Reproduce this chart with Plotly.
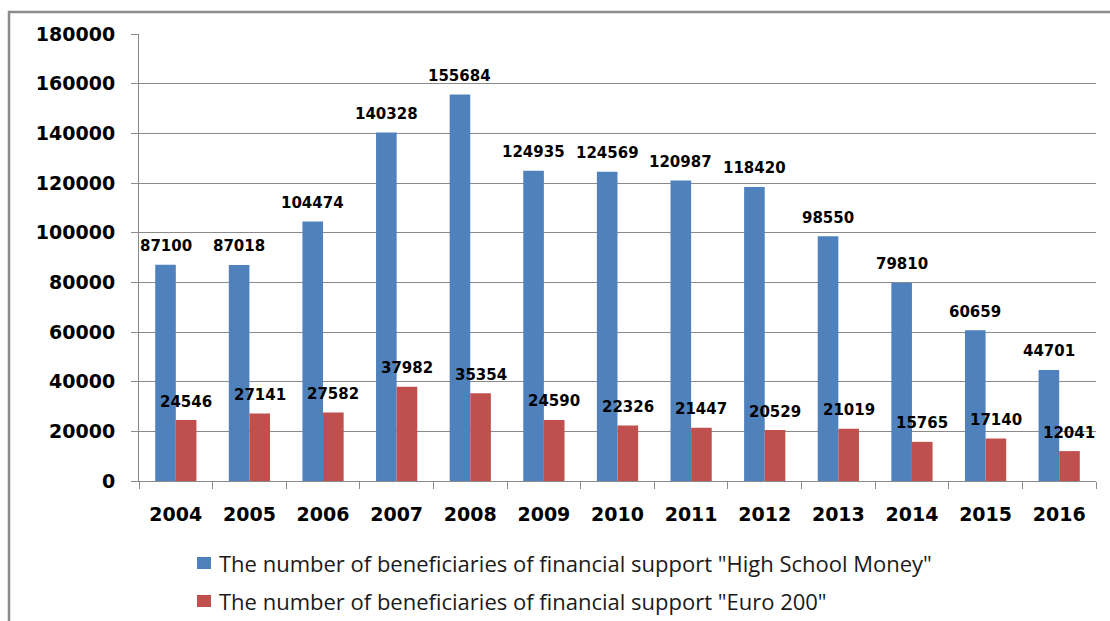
import plotly.graph_objects as go

years = ["2004", "2005", "2006", "2007", "2008", "2009", "2010",
         "2011", "2012", "2013", "2014", "2015", "2016"]
high_school_money = [87100, 87018, 104474, 140328, 155684, 124935, 124569,
                     120987, 118420, 98550, 79810, 60659, 44701]
euro_200 = [24546, 27141, 27582, 37982, 35354, 24590, 22326,
            21447, 20529, 21019, 15765, 17140, 12041]
series_names = [
    'The number of beneficiaries of financial support "High School Money"',
    'The number of beneficiaries of financial support "Euro 200"',
]
y_ticks = [0, 20000, 40000, 60000, 80000, 100000, 120000, 140000, 160000, 180000]

BLUE = "#4F81BD"
RED = "#C0504D"
GRID = "#8A8A8A"
colors = [BLUE, RED]

W, H = 1110, 621
ML, MR, MT, MB = 139, 14, 34, 140
plot_w = W - ML - MR
plot_h = H - MT - MB


def px_x(px):
    return (px - ML) / plot_w


def px_y(py):
    return (H - MB - py) / plot_h


fig = go.Figure()
for name, vals, col in zip(series_names, (high_school_money, euro_200), colors):
    fig.add_trace(go.Bar(x=years, y=vals, name=name, showlegend=False,
                         marker=dict(color=col, line=dict(width=0))))

bargap = 0.44
cat_w = plot_w / len(years)
bar_w = cat_w * (1 - bargap) / 2
label_font = dict(family="DejaVu Sans", size=15, color="black", weight="bold")
annotations = []
for series, shift in ((high_school_money, -bar_w / 2), (euro_200, bar_w / 2)):
    for i, v in enumerate(series):
        annotations.append(dict(x=i, y=v, xref="x", yref="y", text=str(v),
                                showarrow=False, xshift=shift, yshift=18.5,
                                yanchor="middle", xanchor="center",
                                font=label_font))

# hand-built legend (square swatch + text) below the plot
shapes = [dict(type="rect", xref="paper", yref="paper",
               x0=px_x(9), x1=1.2, y0=-0.6, y1=px_y(12),
               line=dict(color="#8C8C8C", width=2.5), layer="below")]
legend_rows = [563, 601]
for name, col, row in zip(series_names, colors, legend_rows):
    shapes.append(dict(type="rect", xref="paper", yref="paper",
                       x0=px_x(197), x1=px_x(211),
                       y0=px_y(row + 6), y1=px_y(row - 6),
                       fillcolor=col, line=dict(width=0)))
    annotations.append(dict(xref="paper", yref="paper", x=px_x(217),
                            y=px_y(row), xanchor="left", yanchor="middle",
                            text=name, showarrow=False,
                            font=dict(family="Open Sans", size=22,
                                      color="#1a1a1a")))

fig.update_layout(
    width=W, height=H,
    margin=dict(l=ML, r=MR, t=MT, b=MB, pad=0),
    paper_bgcolor="white", plot_bgcolor="white",
    barmode="group", bargap=bargap, bargroupgap=0,
    annotations=annotations,
    shapes=shapes,
    showlegend=False,
    xaxis=dict(type="category", range=[-0.5, len(years) - 0.5],
               showline=True, linecolor=GRID, linewidth=1,
               ticks="outside", tickson="boundaries", ticklen=7,
               tickcolor=GRID, showgrid=False, tickangle=0,
               tickfont=dict(family="DejaVu Sans", size=19, color="black",
                             weight="bold"),
               ticklabelstandoff=16),
    yaxis=dict(range=[0, 180000], tickvals=y_ticks,
               ticktext=[str(t) for t in y_ticks],
               showline=True, linecolor=GRID, linewidth=1,
               ticks="outside", ticklen=7, tickcolor=GRID,
               showgrid=True, gridcolor=GRID, gridwidth=1,
               zeroline=False,
               tickfont=dict(family="DejaVu Sans", size=19, color="black",
                             weight="bold"),
               ticklabelstandoff=12),
)

fig.write_html("out.html", config={"displayModeBar": False},
               post_script="document.body.style.margin='0';"
                           "document.body.style.padding='0';")
